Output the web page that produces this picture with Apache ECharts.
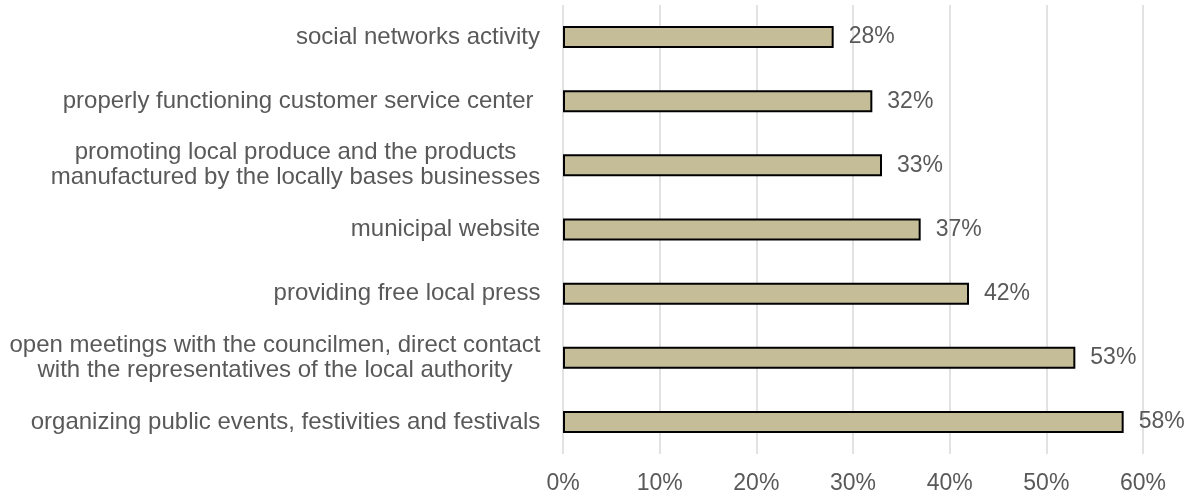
<!DOCTYPE html>
<html>
<head>
<meta charset="utf-8">
<script src="https://cdn.jsdelivr.net/npm/echarts@6/dist/echarts.min.js"></script>
<style>
html,body{margin:0;padding:0;background:#fff;}
#chart{width:1189px;height:495px;}
</style>
</head>
<body>
<div id="chart"></div>
<script>
var categories = [
  'social networks activity',
  'properly functioning customer service center ',
  'promoting local produce and the products\nmanufactured by the locally bases businesses',
  'municipal website',
  'providing free local press',
  'open meetings with the councilmen, direct contact\nwith the representatives of the local authority',
  'organizing public events, festivities and festivals'
];
var values = [28, 32, 33, 37, 42, 53, 58];
var tickMax = 60;
var tickStep = 10;

var catFont = '24px "Liberation Sans", Arial, sans-serif';
var cv = document.createElement('canvas').getContext('2d');
cv.font = catFont;
var rich = {};
categories.forEach(function (c, i) {
  var w = 0;
  c.split('\n').forEach(function (l) { w = Math.max(w, cv.measureText(l).width); });
  rich['l' + i] = { width: Math.ceil(w) + 1, align: 'center', fontSize: 24, lineHeight: 25, color: '#595959', fontFamily: '"Liberation Sans", Arial, sans-serif' };
});

var chart = echarts.init(document.getElementById('chart'));
chart.setOption({
  animation: false,
  textStyle: { fontFamily: '"Liberation Sans", Arial, sans-serif' },
  grid: { left: 563, right: 46, top: 5, bottom: 40, containLabel: false },
  xAxis: {
    type: 'value', min: 0, max: tickMax, interval: tickStep,
    axisLine: { show: false }, axisTick: { show: false },
    splitLine: { show: true, lineStyle: { color: '#d9d9d9', width: 1.5 } },
    axisLabel: { formatter: '{value}%', color: '#595959', fontSize: 23, margin: 18 }
  },
  yAxis: {
    type: 'category', data: categories, inverse: true,
    axisLine: { show: false }, axisTick: { show: false },
    axisLabel: {
      margin: 22, align: 'right',
      formatter: function (v, i) {
        return v.split('\n').map(function (l) { return '{l' + i + '|' + l + '}'; }).join('\n');
      },
      rich: rich
    }
  },
  series: [{
    type: 'bar', data: values, barWidth: 22,
    itemStyle: { color: '#c4bd97', borderColor: '#000', borderWidth: 2 },
    label: { show: true, position: 'right', distance: 15, formatter: '{c}%', color: '#595959', fontSize: 23 }
  }]
});
</script>
</body>
</html>
